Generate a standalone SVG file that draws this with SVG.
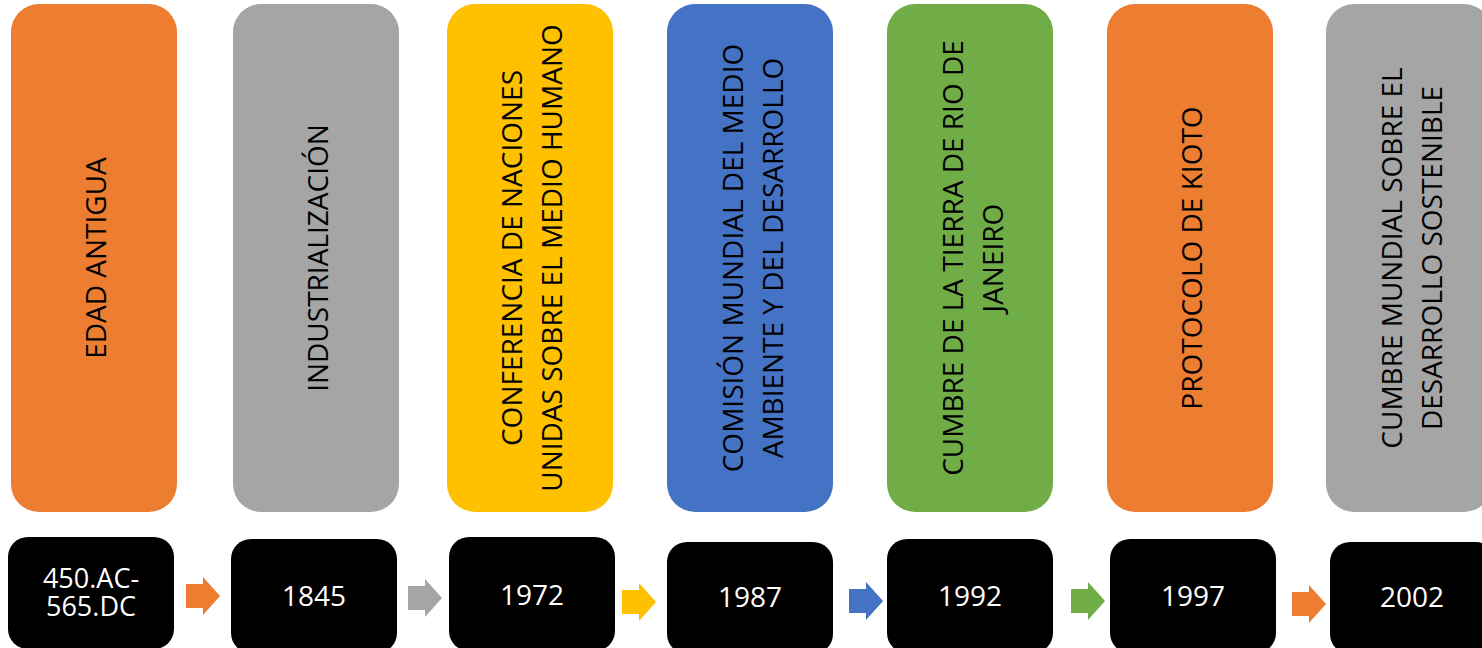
<svg xmlns="http://www.w3.org/2000/svg" width="1482" height="648" viewBox="0 0 1482 648">
<style>
.bg{fill:#ffffff}
.orange{fill:#ED7D31}
.gray{fill:#A5A5A5}
.yellow{fill:#FFC000}
.blue{fill:#4472C4}
.green{fill:#70AD47}
.year{fill:#000000}
.vt{font-family:"Open Sans","Liberation Sans",sans-serif;font-size:28px;fill:#000000;text-anchor:middle}
.yt{font-family:"Open Sans","Liberation Sans",sans-serif;font-size:28px;fill:#ffffff;text-anchor:middle}
.yt2{font-size:27px}
</style>
<defs>
<path id="arrow" d="M0,-12 H17 V-19 L34,0 L17,19 V12 H0 Z"/>
</defs>
<rect class="bg" x="0" y="0" width="1482" height="648"/>

<g id="n1">
<rect class="orange" x="11" y="4" width="166" height="508" rx="28"/>
<text class="vt" transform="translate(106,258) rotate(-90)">EDAD ANTIGUA</text>
</g>
<g id="n2">
<rect class="gray" x="233" y="4" width="166" height="508" rx="28"/>
<text class="vt" transform="translate(328,258) rotate(-90)">INDUSTRIALIZACIÓN</text>
</g>
<g id="n3">
<rect class="yellow" x="447" y="4" width="166" height="508" rx="28"/>
<text class="vt" transform="translate(522,258) rotate(-90)"><tspan x="0" y="0">CONFERENCIA DE NACIONES</tspan><tspan x="0" y="39.5">UNIDAS SOBRE EL MEDIO HUMANO</tspan></text>
</g>
<g id="n4">
<rect class="blue" x="667" y="4" width="166" height="508" rx="28"/>
<text class="vt" transform="translate(743,258) rotate(-90)"><tspan x="0" y="0">COMISIÓN MUNDIAL DEL MEDIO</tspan><tspan x="0" y="39.5">AMBIENTE Y DEL DESARROLLO</tspan></text>
</g>
<g id="n5">
<rect class="green" x="887" y="4" width="166" height="508" rx="28"/>
<text class="vt" transform="translate(963,258) rotate(-90)"><tspan x="0" y="0">CUMBRE DE LA TIERRA DE RIO DE</tspan><tspan x="0" y="39.5">JANEIRO</tspan></text>
</g>
<g id="n6">
<rect class="orange" x="1107" y="4" width="166" height="508" rx="28"/>
<text class="vt" transform="translate(1202,258) rotate(-90)">PROTOCOLO DE KIOTO</text>
</g>
<g id="n7">
<rect class="gray" x="1326" y="4" width="166" height="508" rx="28"/>
<text class="vt" transform="translate(1402,258) rotate(-90)"><tspan x="0" y="0">CUMBRE MUNDIAL SOBRE EL</tspan><tspan x="0" y="39.5">DESARROLLO SOSTENIBLE</tspan></text>
</g>

<g id="y1">
<rect class="year" x="8" y="537" width="166" height="112" rx="20"/>
<text class="yt yt2"><tspan x="91" y="587.5">450.AC-</tspan><tspan x="91" y="615.5">565.DC</tspan></text>
</g>
<g id="y2">
<rect class="year" x="231" y="539" width="166" height="114" rx="20"/>
<text class="yt" x="314" y="606">1845</text>
</g>
<g id="y3">
<rect class="year" x="449" y="537" width="166" height="114" rx="20"/>
<text class="yt" x="532" y="605">1972</text>
</g>
<g id="y4">
<rect class="year" x="667" y="542" width="166" height="112" rx="20"/>
<text class="yt" x="750" y="607">1987</text>
</g>
<g id="y5">
<rect class="year" x="887" y="539" width="166" height="114" rx="20"/>
<text class="yt" x="970" y="606">1992</text>
</g>
<g id="y6">
<rect class="year" x="1110" y="539" width="166" height="114" rx="20"/>
<text class="yt" x="1193" y="606">1997</text>
</g>
<g id="y7">
<rect class="year" x="1330" y="542" width="166" height="112" rx="20"/>
<text class="yt" x="1412" y="607">2002</text>
</g>

<g id="connectors">
<use href="#arrow" class="orange" x="186" y="596"/>
<use href="#arrow" class="gray" x="408" y="598"/>
<use href="#arrow" class="yellow" x="622" y="602"/>
<use href="#arrow" class="blue" x="849" y="601"/>
<use href="#arrow" class="green" x="1071" y="601"/>
<use href="#arrow" class="orange" x="1292" y="604"/>
</g>
</svg>
